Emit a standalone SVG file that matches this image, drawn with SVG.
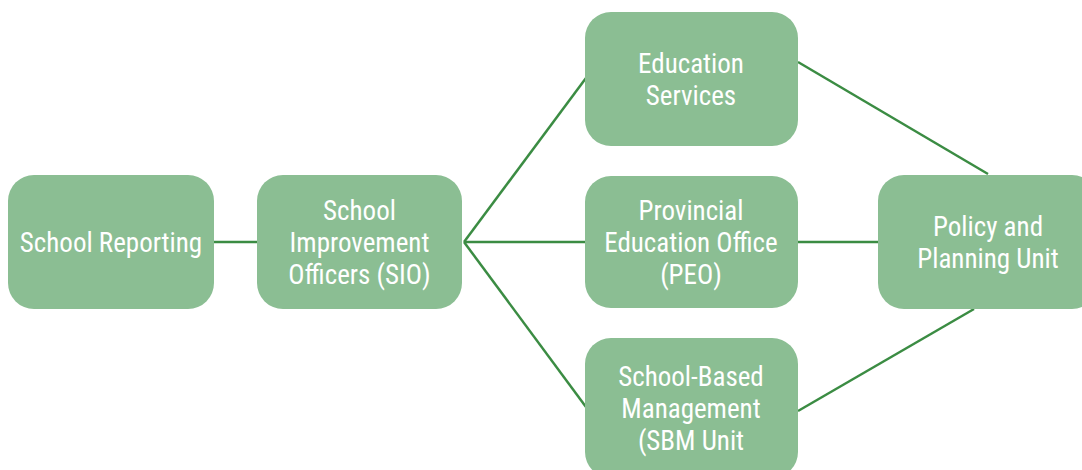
<svg xmlns="http://www.w3.org/2000/svg" width="1082" height="470" viewBox="0 0 1082 470">
<style>
.n rect{fill:#8bbe93;}
.n text{fill:#ffffff;font-family:"Roboto Condensed","Liberation Sans Narrow","DejaVu Sans Condensed",Roboto,sans-serif;font-size:27px;text-anchor:middle;font-stretch:condensed;}
.c line{stroke:#3b8c43;stroke-width:2.5;}
</style>
<rect width="1082" height="470" fill="#ffffff"/>
<g class="c">
<line x1="214" y1="242" x2="257" y2="242"/>
<line x1="464" y1="242" x2="586" y2="78"/>
<line x1="464" y1="242" x2="585" y2="242"/>
<line x1="464" y1="242" x2="586" y2="407"/>
<line x1="798" y1="242" x2="878" y2="242"/>
<line x1="798" y1="62" x2="988" y2="174"/>
<line x1="798" y1="411" x2="974" y2="309"/>
</g>
<g id="school-reporting" class="n"><rect x="8" y="175" width="206" height="134" rx="26"/><text x="111" y="252">School Reporting</text></g>
<g id="sio" class="n"><rect x="257" y="175" width="205" height="134" rx="26"/><text x="359.5" y="220">School</text><text x="359.5" y="252">Improvement</text><text x="359.5" y="284">Officers (SIO)</text></g>
<g id="education-services" class="n"><rect x="585" y="12" width="213" height="134" rx="26"/><text x="691" y="73">Education</text><text x="691" y="105">Services</text></g>
<g id="peo" class="n"><rect x="585" y="176" width="213" height="132" rx="26"/><text x="691" y="220">Provincial</text><text x="691" y="252">Education Office</text><text x="691" y="284">(PEO)</text></g>
<g id="sbm" class="n"><rect x="585" y="338" width="213" height="140" rx="26"/><text x="691" y="386">School-Based</text><text x="691" y="418">Management</text><text x="691" y="450">(SBM Unit</text></g>
<g id="policy" class="n"><rect x="878" y="175" width="220" height="134" rx="26"/><text x="988" y="236">Policy and</text><text x="988" y="268">Planning Unit</text></g>
</svg>
